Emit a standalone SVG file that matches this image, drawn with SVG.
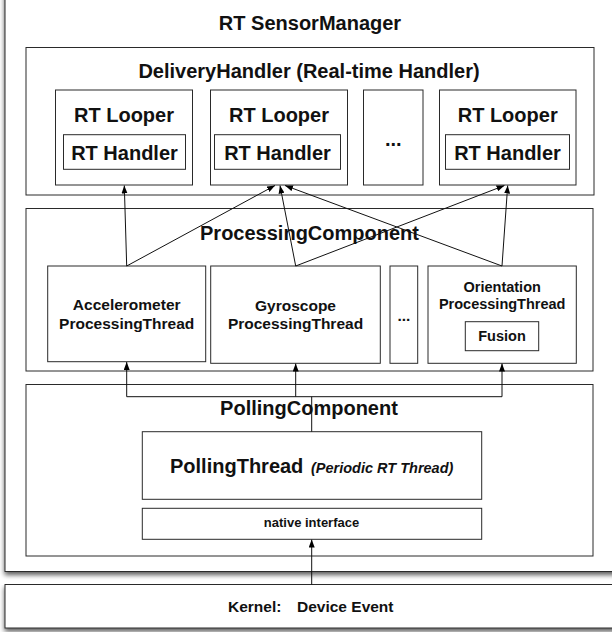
<svg xmlns="http://www.w3.org/2000/svg" width="612" height="632" viewBox="0 0 612 632">
<style>
  .box { fill: #fff; stroke: #2a2a2a; stroke-width: 1; }
  .t { font-family: "Liberation Sans", Arial, sans-serif; font-weight: bold; fill: #111; text-anchor: middle; }
  .ts { font-family: "Liberation Sans", Arial, sans-serif; font-weight: bold; fill: #111; text-anchor: start; }
  .conn { fill: none; stroke: #111; stroke-width: 1; }
</style>
<defs>
  <filter id="sh" x="-5%" y="-5%" width="110%" height="120%">
    <feGaussianBlur in="SourceAlpha" stdDeviation="2.5"/>
    <feOffset dx="0" dy="3" result="o"/>
    <feComponentTransfer><feFuncA type="linear" slope="0.65"/></feComponentTransfer>
    <feMerge><feMergeNode/><feMergeNode in="SourceGraphic"/></feMerge>
  </filter>
  <marker id="ah" viewBox="0 0 8 6" refX="8" refY="3" markerWidth="8" markerHeight="6" markerUnits="userSpaceOnUse" orient="auto">
    <path d="M0,0 L8,3 L0,6 z" fill="#000"/>
  </marker>
</defs>
<rect width="612" height="632" fill="#fff"/>

<g id="sensor-manager">
  <rect class="box" x="5" y="-20" width="640" height="591.5" filter="url(#sh)"/>
  <text class="t" x="310" y="30" font-size="20">RT SensorManager</text>
</g>

<g id="kernel">
  <rect class="box" x="5" y="584.5" width="640" height="43.5" filter="url(#sh)"/>
  <text class="ts" x="228" y="612.3" font-size="15.5">Kernel:<tspan x="297">Device Event</tspan></text>
</g>

<g id="delivery-handler">
  <rect class="box" x="26" y="47.5" width="568" height="147.5"/>
  <text class="t" x="309" y="78" font-size="20">DeliveryHandler (Real-time Handler)</text>
</g>
<g id="looper1">
  <rect class="box" x="55.5" y="90" width="137" height="95"/>
  <text class="t" x="124" y="122" font-size="20">RT Looper</text>
  <rect class="box" x="63.5" y="134.7" width="122" height="34.6"/>
  <text class="t" x="124.5" y="159.5" font-size="20">RT Handler</text>
</g>
<g id="looper2">
  <rect class="box" x="210.5" y="90" width="137" height="95"/>
  <text class="t" x="279" y="122" font-size="20">RT Looper</text>
  <rect class="box" x="214.5" y="134.7" width="126" height="34.6"/>
  <text class="t" x="277.5" y="159.5" font-size="20">RT Handler</text>
</g>
<g id="looper-dots">
  <rect class="box" x="363.5" y="90" width="59.5" height="95"/>
  <text class="t" x="393.3" y="146" font-size="20">...</text>
</g>
<g id="looper4">
  <rect class="box" x="439.5" y="90" width="136.5" height="95"/>
  <text class="t" x="507.7" y="122" font-size="20">RT Looper</text>
  <rect class="box" x="445.5" y="134.7" width="124" height="34.6"/>
  <text class="t" x="507.5" y="159.5" font-size="20">RT Handler</text>
</g>

<g id="processing-component">
  <rect class="box" x="26" y="208.5" width="567" height="162.5"/>
  <text class="t" x="309.5" y="240" font-size="20">ProcessingComponent</text>
</g>
<g id="accelerometer">
  <rect class="box" x="47.7" y="266" width="158" height="95.7"/>
  <text class="t" x="126.7" y="310" font-size="15.5">Accelerometer</text>
  <text class="t" x="126.7" y="328.5" font-size="15.5">ProcessingThread</text>
</g>
<g id="gyroscope">
  <rect class="box" x="210.7" y="266" width="169.6" height="97.3"/>
  <text class="t" x="295.5" y="310.5" font-size="15.5">Gyroscope</text>
  <text class="t" x="295.5" y="329.3" font-size="15.5">ProcessingThread</text>
</g>
<g id="processing-dots">
  <rect class="box" x="390" y="266" width="27.7" height="97.3"/>
  <text class="t" x="403.9" y="321" font-size="15.5">...</text>
</g>
<g id="orientation">
  <rect class="box" x="428" y="266" width="148.3" height="97.3"/>
  <text class="t" x="502.2" y="291.7" font-size="14.5">Orientation</text>
  <text class="t" x="502.2" y="309.3" font-size="14.5">ProcessingThread</text>
  <rect class="box" x="465.3" y="321.7" width="73.4" height="29"/>
  <text class="t" x="502" y="341" font-size="14.5">Fusion</text>
</g>

<g id="polling-component">
  <rect class="box" x="26" y="384.5" width="567" height="171.5"/>
  <text class="t" x="309" y="415" font-size="20">PollingComponent</text>
</g>
<g id="polling-thread">
  <rect class="box" x="142.3" y="431.7" width="339.4" height="67.6"/>
  <text class="ts" x="170" y="472.7" font-size="20">PollingThread<tspan x="311" font-size="14.5" font-style="italic">(Periodic RT Thread)</tspan></text>
</g>
<g id="native-interface">
  <rect class="box" x="142.3" y="508.3" width="339.4" height="31"/>
  <text class="t" x="311.5" y="527.3" font-size="13">native interface</text>
</g>

<g id="connectors">
  <line class="conn" x1="126.7" y1="266" x2="124.3" y2="185.5" marker-end="url(#ah)"/>
  <line class="conn" x1="126.7" y1="266" x2="275" y2="185.5" marker-end="url(#ah)"/>
  <line class="conn" x1="295.7" y1="266" x2="280" y2="185.5" marker-end="url(#ah)"/>
  <line class="conn" x1="295.7" y1="266" x2="504.5" y2="185.5" marker-end="url(#ah)"/>
  <line class="conn" x1="502" y1="266" x2="285" y2="185.5" marker-end="url(#ah)"/>
  <line class="conn" x1="502" y1="266" x2="507.7" y2="185.5" marker-end="url(#ah)"/>
  <polyline class="conn" points="311.7,431.7 311.7,396.7"/>
  <polyline class="conn" points="126.7,396.7 502,396.7"/>
  <line class="conn" x1="126.7" y1="396.7" x2="126.7" y2="362" marker-end="url(#ah)"/>
  <line class="conn" x1="295.7" y1="396.7" x2="295.7" y2="363.5" marker-end="url(#ah)"/>
  <line class="conn" x1="502" y1="396.7" x2="502" y2="363.5" marker-end="url(#ah)"/>
  <line class="conn" x1="311.7" y1="584.5" x2="311.7" y2="539.5" marker-end="url(#ah)"/>
</g>
</svg>
